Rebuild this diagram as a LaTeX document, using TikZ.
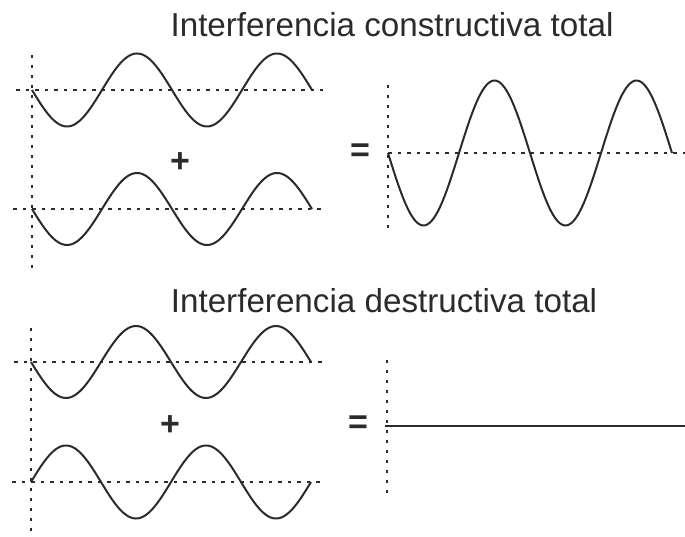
\documentclass[tikz,border=0pt]{standalone}
\usepackage{fontspec}
\setmainfont{Liberation Sans}
\usepackage{tikz}
\usetikzlibrary{positioning}

\definecolor{inkgray}{HTML}{2B2B2B}

\begin{document}
\begin{tikzpicture}[
    x=1pt, y=-1pt,
    title/.style={font=\fontsize{33.2}{38}\selectfont, text=inkgray, anchor=base, inner sep=0pt},
    opsign/.style={font=\fontsize{34}{38}\selectfont\bfseries, text=inkgray, inner sep=0pt},
    wave/.style={draw=inkgray, line width=2pt},
    zeroline/.style={draw=inkgray, line width=1.8pt, dash pattern=on 3.5pt off 6pt},
    timeline/.style={draw=inkgray, line width=1.8pt, dash pattern=on 3pt off 7pt}
]
    \useasboundingbox (0,0) rectangle (685,537);

    % Titles
    \node[title] (ttlc) at (392,37) {Interferencia constructiva total};
    \node[title] (ttld) at (384,312) {Interferencia destructiva total};

    % --- constructive: left waves
    \draw[timeline] (32,55) -- (32,268);
    \draw[zeroline] (16,90) -- (323,90);
    \draw[zeroline] (13,209) -- (323,209);
    \draw[wave] plot[domain=32:312, samples=140, smooth] (\x, {90+36.5*sin(2.5714*(\x-32))});
    \draw[wave] plot[domain=32:312, samples=140, smooth] (\x, {209+36*sin(2.5714*(\x-32))});
    \node[opsign] (plusc) at (180,163) {+};

    % --- constructive: sum
    \node[opsign] (eqc) at (360,153) {=};
    \draw[timeline] (388,85) -- (388,228);
    \draw[zeroline] (388,153) -- (685,153);
    \draw[wave] plot[domain=388:672, samples=140, smooth] (\x, {153+72.5*sin(2.5352*(\x-388))});

    % --- destructive: left waves
    \draw[timeline] (31,328) -- (31,537);
    \draw[zeroline] (14,362) -- (322,362);
    \draw[zeroline] (12,482) -- (320,482);
    \draw[wave] plot[domain=31:311, samples=140, smooth] (\x, {362+36*sin(2.5714*(\x-31))});
    \draw[wave] plot[domain=31:311, samples=140, smooth] (\x, {482-36.5*sin(2.5714*(\x-31))});
    \node[opsign] (plusd) at (170,426) {+};

    % --- destructive: sum
    \node[opsign] (eqd) at (358,425) {=};
    \draw[timeline] (387,360) -- (387,500);
    \draw[wave] (385,426) -- (685,426);

\end{tikzpicture}
\end{document}
